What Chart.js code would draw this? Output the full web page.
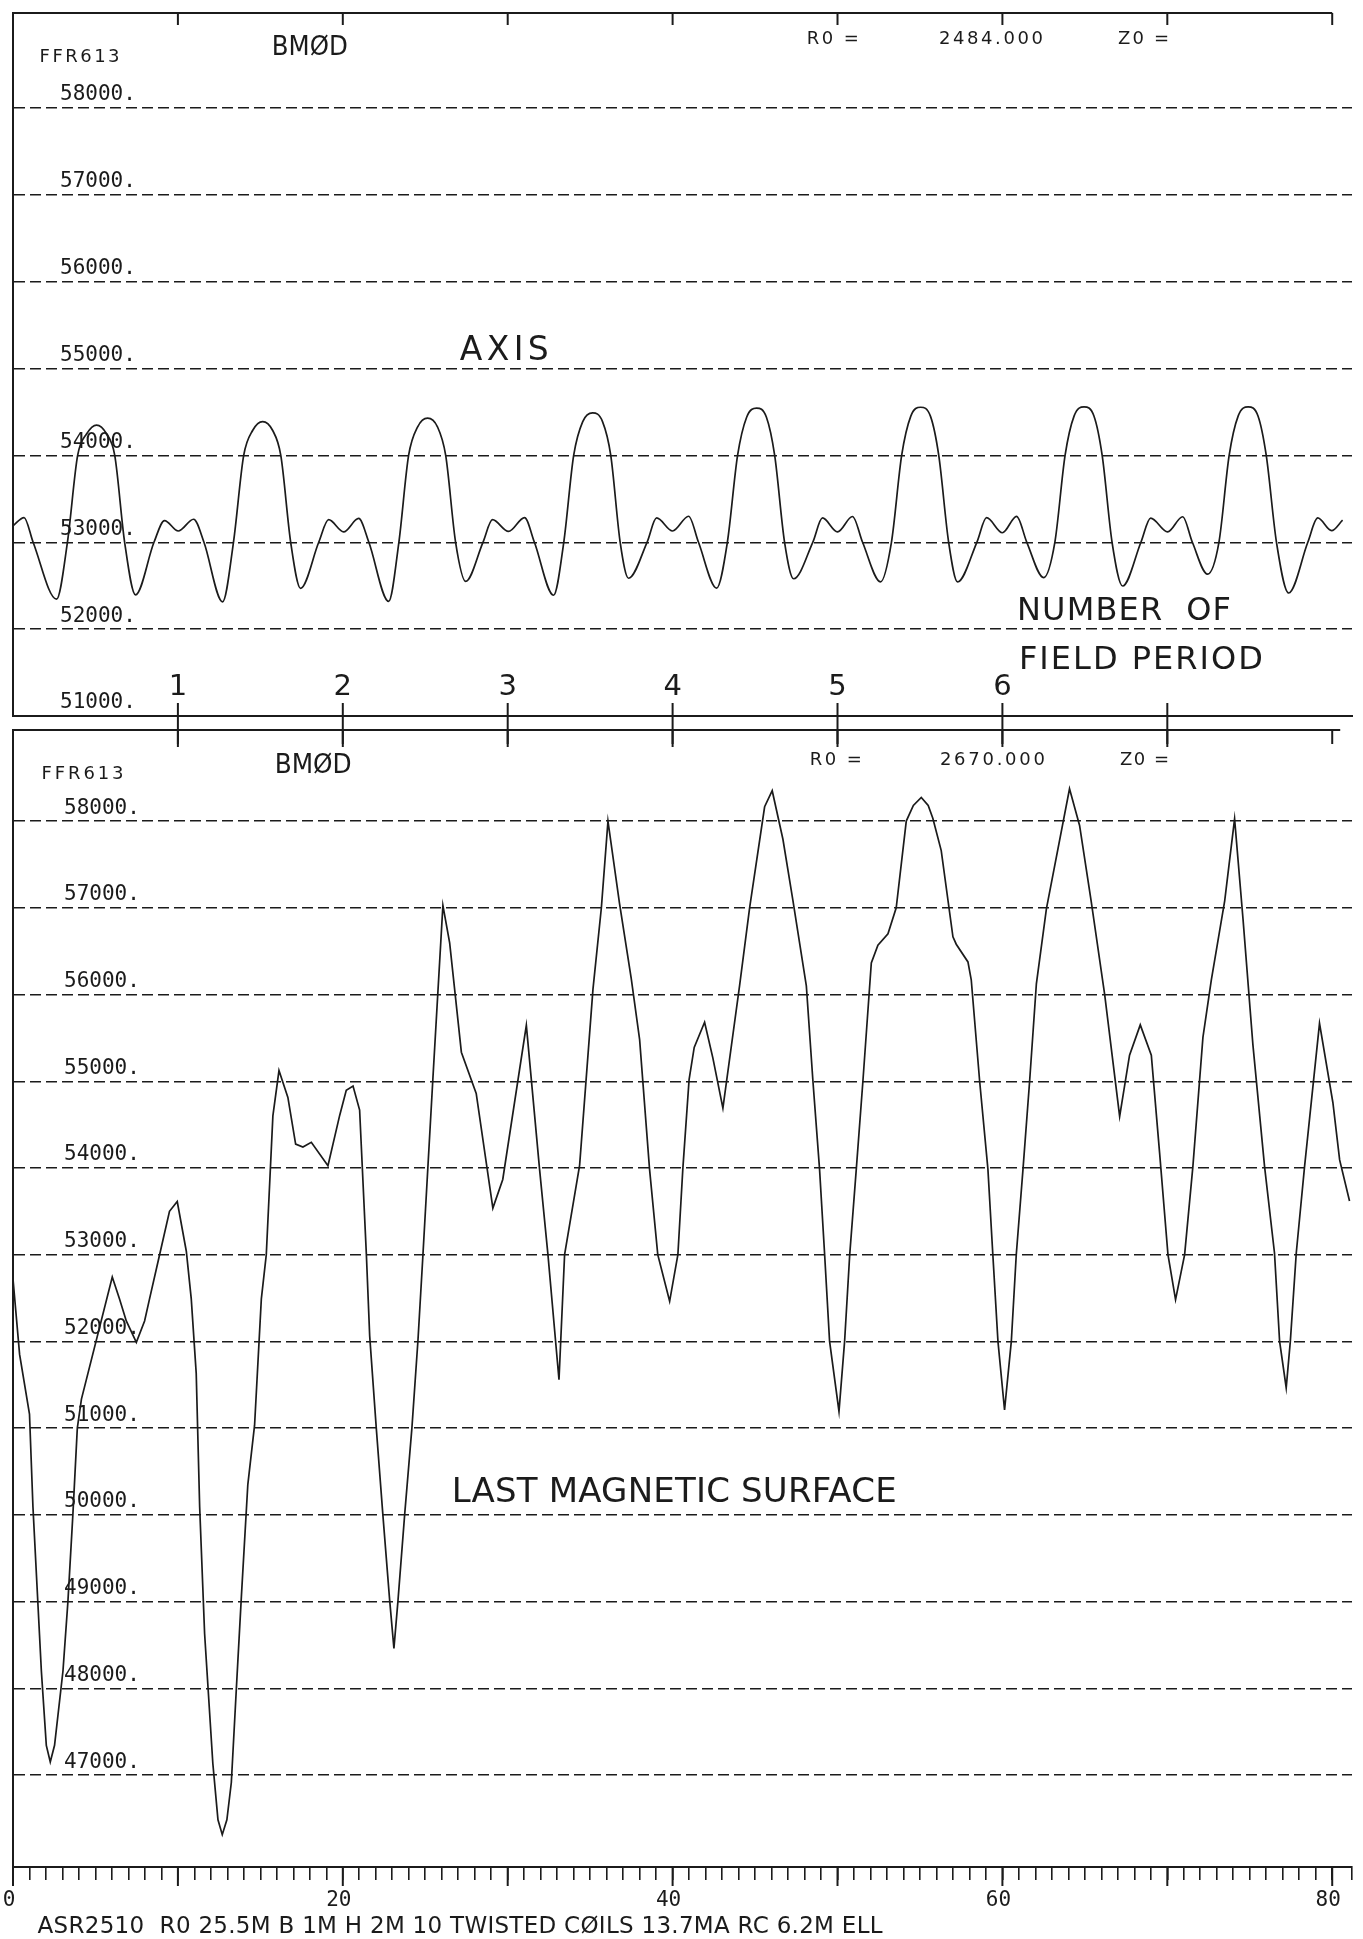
<!DOCTYPE html>
<html>
<head>
<meta charset="utf-8">
<script src="https://cdn.jsdelivr.net/npm/chart.js@4.4.1/dist/chart.umd.min.js"></script>
<style>
  html, body { margin: 0; padding: 0; background: #fff; }
  #page { position: relative; width: 1363px; height: 1939px; background: #fff; overflow: hidden; }
  canvas { position: absolute; left: 0; }
  #axisChart { top: 0; }
  #lmsChart { top: 720px; }
</style>
</head>
<body>
<div id="page">
  <canvas id="axisChart" width="1363" height="760"></canvas>
  <canvas id="lmsChart" width="1363" height="1219"></canvas>
</div>
<script>
// BMOD on the magnetic axis (top panel)
const axisPos = [
  0.00, 0.67, 1.22, 2.64, 3.30, 3.92, 4.47, 5.07, 5.67, 6.17, 6.77, 7.43, 8.55, 9.19,
  10.02, 10.95, 11.58, 12.71, 13.37, 13.99, 14.54, 15.14, 15.74, 16.24, 16.84, 17.44, 18.54, 19.14,
  20.05, 20.96, 21.58, 22.78, 23.40, 23.99, 24.54, 25.14, 25.74, 26.24, 26.84, 27.45, 28.50, 29.08,
  30.05, 31.02, 31.62, 32.78, 33.40, 34.00, 34.55, 35.15, 35.75, 36.25, 36.82, 37.33, 38.45, 39.03,
  40.00, 40.97, 41.57, 42.67, 43.32, 43.94, 44.49, 45.09, 45.69, 46.19, 46.79, 47.34, 48.50, 49.09,
  50.00, 50.91, 51.52, 52.61, 53.27, 53.89, 54.44, 55.04, 55.64, 56.14, 56.74, 57.28, 58.45, 59.04,
  60.00, 60.86, 61.48, 62.50, 63.18, 63.80, 64.35, 64.95, 65.55, 66.05, 66.65, 67.29, 68.40, 68.99,
  70.02, 70.93, 71.52, 72.44, 73.13, 73.75, 74.30, 74.90, 75.50, 76.00, 76.62, 77.36, 78.52, 79.12,
  79.96, 80.63
];
const axisB = [
  53190, 53285, 53000, 52345, 53000, 54000, 54250, 54350, 54250, 54000, 53000, 52395, 53000, 53250,
  53130, 53265, 53000, 52315, 53000, 54000, 54290, 54390, 54290, 54000, 53000, 52470, 53000, 53260,
  53120, 53275, 53000, 52320, 53000, 54000, 54330, 54430, 54330, 54000, 53000, 52550, 53000, 53260,
  53125, 53285, 53000, 52390, 53000, 54000, 54390, 54490, 54390, 54000, 53000, 52586, 53000, 53280,
  53130, 53300, 53000, 52473, 53000, 54000, 54440, 54545, 54440, 54000, 53000, 52580, 53000, 53280,
  53120, 53297, 53000, 52545, 53000, 54000, 54450, 54555, 54450, 54000, 53000, 52544, 53000, 53283,
  53110, 53299, 53000, 52593, 53000, 54000, 54455, 54560, 54455, 54000, 53000, 52497, 53000, 53278,
  53120, 53294, 53000, 52633, 53000, 54000, 54455, 54560, 54455, 54000, 53000, 52416, 53000, 53280,
  53134, 53255
];

// BMOD on the last magnetic surface (bottom panel)
const lmsPos = [
  0.00, 0.40, 1.00, 1.21, 1.72, 2.02, 2.26, 2.52, 3.03, 3.33, 3.63, 3.90, 4.15, 6.02,
  6.46, 6.87, 7.48, 7.98, 8.28, 8.89, 9.49, 9.96, 10.51, 10.81, 11.11, 11.32, 11.62, 12.12,
  12.43, 12.69, 12.97, 13.24, 13.54, 13.85, 14.24, 14.65, 15.06, 15.36, 15.76, 16.13, 16.67, 17.14,
  17.58, 18.09, 19.10, 19.81, 20.21, 20.62, 21.02, 21.43, 21.63, 22.03, 22.43, 22.84, 23.10, 23.35,
  23.75, 24.19, 24.56, 24.86, 25.46, 26.07, 26.48, 27.19, 28.09, 29.10, 29.70, 31.13, 31.93, 32.44,
  33.11, 33.45, 34.36, 35.17, 35.68, 36.08, 36.78, 37.49, 38.00, 38.60, 39.10, 39.82, 40.32, 40.62,
  41.00, 41.31, 41.94, 42.44, 43.05, 44.06, 44.67, 45.58, 46.04, 46.69, 47.29, 48.11, 48.51, 48.91,
  49.22, 49.52, 50.09, 50.43, 50.74, 51.14, 51.54, 52.05, 52.45, 53.06, 53.56, 54.17, 54.60, 55.08,
  55.50, 55.78, 56.29, 57.00, 57.20, 57.91, 58.11, 58.62, 59.12, 59.42, 59.73, 60.13, 60.54, 60.84,
  61.25, 61.65, 62.06, 62.67, 64.07, 64.68, 65.38, 66.20, 67.11, 67.71, 68.36, 69.03, 69.53, 70.04,
  70.50, 71.05, 71.55, 72.16, 72.67, 73.48, 74.08, 74.59, 75.19, 75.90, 76.50, 76.81, 77.21, 77.46,
  77.82, 78.32, 79.23, 80.04, 80.45, 81.05
];
const lmsB = [
  52720, 51850, 51163, 50090, 48200, 47343, 47150, 47343, 48200, 49000, 50000, 51000, 51335, 52743,
  52490, 52236, 51990, 52236, 52490, 53000, 53500, 53613, 53040, 52490, 51635, 50090, 48630, 47130,
  46485, 46313, 46485, 46914, 47980, 49060, 50350, 51034, 52490, 53000, 54600, 55123, 54813, 54276,
  54242, 54296, 54026, 54606, 54896, 54945, 54668, 53000, 52064, 51000, 50000, 49020, 48460, 49020,
  50000, 51000, 52020, 53000, 55020, 57027, 56595, 55335, 54860, 53537, 53868, 55645, 53990, 53000,
  51558, 53000, 54030, 56060, 57000, 58000, 57050, 56186, 55480, 53990, 53000, 52463, 53000, 53990,
  55020, 55390, 55680, 55270, 54690, 56100, 57000, 58165, 58350, 57790, 57090, 56100, 55000, 53990,
  53000, 52000, 51193, 52000, 53000, 53990, 55000, 56364, 56570, 56700, 57000, 58000, 58180, 58273,
  58180, 58033, 57660, 56666, 56580, 56376, 56170, 55000, 53990, 53000, 52000, 51209, 52000, 53000,
  53990, 55000, 56124, 56990, 58373, 57950, 57080, 56003, 54595, 55300, 55650, 55300, 54180, 53000,
  52482, 53000, 54015, 55506, 56169, 57080, 58025, 56873, 55423, 54012, 53020, 52000, 51466, 52000,
  53020, 54010, 55667, 54755, 54093, 53620
];

const axisYTicks = [51000, 52000, 53000, 54000, 55000, 56000, 57000, 58000];
const lmsYTicks = [47000, 48000, 49000, 50000, 51000, 52000, 53000, 54000, 55000, 56000, 57000, 58000];
const xLabelPos = [0, 20, 40, 60, 80];
const frameTickPos = [10, 20, 30, 40, 50, 60, 70, 80];
const periodTickPos = [10, 20, 30, 40, 50, 60, 70];
const periodLabels = ['1', '2', '3', '4', '5', '6', ''];

const INK = '#1b1b1b';
const SANS = '"DejaVu Sans", sans-serif';
const MONO = '"DejaVu Sans Mono", monospace';

const axisNotes = [
  { text: 'FFR613', x: 1.61, y: 58610, size: 18, width: 80 },
  { text: 'BMØD', x: 15.69, y: 58726, size: 27, width: 76 },
  { text: 'R0 =', x: 48.14, y: 58818, size: 18, width: 52 },
  { text: '2484.000', x: 56.15, y: 58818, size: 18, width: 104 },
  { text: 'Z0 =', x: 67.01, y: 58818, size: 18, width: 51 },
  { text: 'AXIS', x: 27.09, y: 55237, size: 33, width: 89 },
  { text: 'NUMBER  OF', x: 60.88, y: 52244, size: 32, width: 214 },
  { text: 'FIELD PERIOD', x: 61.0, y: 51680, size: 32, width: 244 }
];
const lmsNotes = [
  { text: 'FFR613', x: 1.73, y: 58566, size: 18, width: 82 },
  { text: 'BMØD', x: 15.87, y: 58670, size: 27, width: 77 },
  { text: 'R0 =', x: 48.32, y: 58727, size: 18, width: 52 },
  { text: '2670.000', x: 56.21, y: 58727, size: 18, width: 105 },
  { text: 'Z0 =', x: 67.13, y: 58727, size: 18, width: 49 },
  { text: 'LAST MAGNETIC SURFACE', x: 26.6, y: 50287, size: 34, width: 445 }
];
const footer = 'ASR2510  R0 25.5M B 1M H 2M 10 TWISTED CØILS 13.7MA RC 6.2M ELL';

// plotter style text: cap-centred at y, stretched or spaced to a given width
function plotText(ctx, str, x, y, size, width, align) {
  ctx.save();
  ctx.font = size + 'px ' + SANS;
  ctx.fillStyle = INK;
  ctx.textBaseline = 'alphabetic';
  let w = ctx.measureText(str).width;
  let sx = 1;
  if (width && width > w && str.length > 1) {
    ctx.letterSpacing = ((width - w) / (str.length - 1)) + 'px';
    w = width;
  } else if (width) {
    sx = width / w;
    w = width;
  }
  const left = align === 'center' ? x - w / 2 : x;
  ctx.translate(left, y + size * 0.365);
  ctx.scale(sx, 1);
  ctx.fillText(str, 0, 0);
  ctx.restore();
}

function line(ctx, x1, y1, x2, y2, w) {
  ctx.beginPath();
  ctx.lineWidth = w;
  ctx.strokeStyle = INK;
  ctx.moveTo(x1, y1);
  ctx.lineTo(x2, y2);
  ctx.stroke();
}

const axisDecor = {
  id: 'axisDecor',
  afterDraw(chart) {
    const {ctx, chartArea: a, scales: {x, y}} = chart;
    ctx.save();
    line(ctx, a.left, a.top, x.getPixelForValue(80), a.top, 2);
    frameTickPos.forEach(p => {
      const px = x.getPixelForValue(p);
      line(ctx, px, a.top, px, a.top + 12, 2);
    });
    periodTickPos.forEach((p, i) => {
      const px = x.getPixelForValue(p);
      line(ctx, px, a.bottom - 13, px, a.bottom + 31, 2);
      if (periodLabels[i]) plotText(ctx, periodLabels[i], px, y.getPixelForValue(51360), 29, 0, 'center');
    });
    axisNotes.forEach(n => plotText(ctx, n.text, x.getPixelForValue(n.x), y.getPixelForValue(n.y), n.size, n.width));
    ctx.restore();
  }
};

const lmsDecor = {
  id: 'lmsDecor',
  afterDraw(chart) {
    const {ctx, chartArea: a, scales: {x, y}} = chart;
    ctx.save();
    line(ctx, a.left, a.top, x.getPixelForValue(80) + 8, a.top, 2);
    frameTickPos.forEach(p => {
      const px = x.getPixelForValue(p);
      line(ctx, px, a.top, px, a.top + 14, 2);
    });
    [0, 10, 20, 30, 40, 50, 60, 70, 80].forEach(p => {
      const px = x.getPixelForValue(p);
      line(ctx, px, a.bottom, px, a.bottom + 19, 2);
    });
    lmsNotes.forEach(n => plotText(ctx, n.text, x.getPixelForValue(n.x), y.getPixelForValue(n.y), n.size, n.width));
    plotText(ctx, footer, x.getPixelForValue(1.49), a.bottom + 58, 23, 845);
    ctx.restore();
  }
};

// the mirrored labels must not push the plot area around
function noPad(s) {
  s.paddingTop = 0;
  s.paddingBottom = 0;
  s.paddingLeft = 0;
  s.paddingRight = 0;
}

function yAxis(min, max, tickList, pad) {
  return {
    min: min,
    max: max,
    afterBuildTicks: axis => { axis.ticks = tickList.map(v => ({ value: v })); },
    afterFit: s => { s.width = 0; noPad(s); },
    grid: { color: INK, lineWidth: 1.4, drawTicks: false },
    border: { display: true, color: INK, width: 2, dash: [11, 5] },
    ticks: {
      mirror: true,
      padding: pad,
      labelOffset: -13,
      autoSkip: false,
      color: INK,
      font: { family: MONO, size: 21 },
      callback: v => v + '.'
    }
  };
}

new Chart(document.getElementById('axisChart'), {
  type: 'line',
  data: {
    datasets: [{
      data: axisPos.map((p, i) => ({ x: p, y: axisB[i] })),
      borderColor: INK,
      borderWidth: 1.7,
      pointRadius: 0,
      cubicInterpolationMode: 'monotone',
      fill: false
    }]
  },
  options: {
    responsive: false,
    animation: false,
    devicePixelRatio: 1,
    layout: { padding: { left: 13, right: 11, top: 13, bottom: 44 } },
    plugins: { legend: { display: false }, tooltip: { enabled: false } },
    scales: {
      x: {
        type: 'linear',
        min: 0,
        max: 81.2,
        afterFit: s => { s.height = 0; noPad(s); },
        grid: { display: false },
        border: { display: true, color: INK, width: 2 },
        ticks: { display: false }
      },
      y: yAxis(51000, 59094, axisYTicks, 47)
    }
  },
  plugins: [axisDecor]
});

new Chart(document.getElementById('lmsChart'), {
  type: 'line',
  data: {
    datasets: [{
      data: lmsPos.map((p, i) => ({ x: p, y: lmsB[i] })),
      borderColor: INK,
      borderWidth: 1.7,
      pointRadius: 0,
      tension: 0,
      fill: false
    }]
  },
  options: {
    responsive: false,
    animation: false,
    devicePixelRatio: 1,
    layout: { padding: { left: 13, right: 11, top: 10, bottom: 12 } },
    plugins: { legend: { display: false }, tooltip: { enabled: false } },
    scales: {
      x: {
        type: 'linear',
        min: 0,
        max: 81.2,
        afterFit: s => { s.height = 60; noPad(s); },
        grid: { display: true, drawOnChartArea: false, drawTicks: true, tickLength: 13, color: INK, lineWidth: 1.6 },
        border: { display: true, color: INK, width: 2 },
        ticks: {
          stepSize: 1,
          maxTicksLimit: 100,
          autoSkip: false,
          maxRotation: 0,
          padding: 8,
          labelOffset: -4,
          color: INK,
          font: { family: MONO, size: 21 },
          callback: v => xLabelPos.includes(v) ? String(v) : ''
        }
      },
      y: yAxis(45940, 59050, lmsYTicks, 51)
    }
  },
  plugins: [lmsDecor]
});
</script>
</body>
</html>
